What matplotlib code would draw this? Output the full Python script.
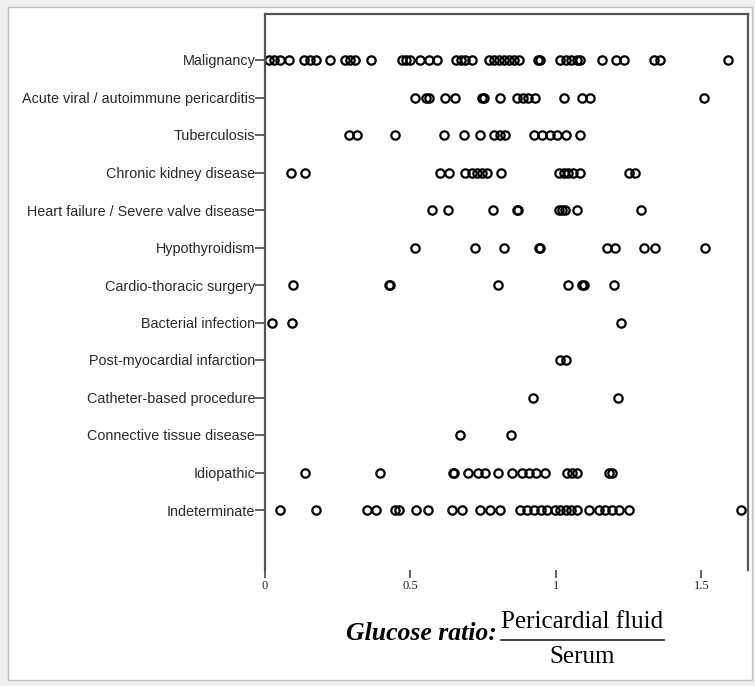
import matplotlib
matplotlib.use("Agg")
import matplotlib.pyplot as plt
from matplotlib.patches import Rectangle
from matplotlib.lines import Line2D

# Diagnosis groups, top to bottom
categories = [
    "Malignancy",
    "Acute viral / autoimmune pericarditis",
    "Tuberculosis",
    "Chronic kidney disease",
    "Heart failure / Severe valve disease",
    "Hypothyroidism",
    "Cardio-thoracic surgery",
    "Bacterial infection",
    "Post-myocardial infarction",
    "Catheter-based procedure",
    "Connective tissue disease",
    "Idiopathic",
    "Indeterminate",
]

# Glucose ratio (pericardial fluid / serum) per patient
malignancy = [0.013, 0.030, 0.050, 0.082, 0.133, 0.154, 0.174, 0.222, 0.274, 0.291,
              0.311, 0.363, 0.471, 0.485, 0.500, 0.534, 0.563, 0.592, 0.655, 0.672,
              0.689, 0.712, 0.769, 0.786, 0.803, 0.821, 0.838, 0.855, 0.872, 0.938,
              0.944, 1.015, 1.033, 1.050, 1.073, 1.084, 1.159, 1.205, 1.233, 1.336,
              1.359, 1.590]
acute_pericarditis = [0.515, 0.555, 0.563, 0.618, 0.654, 0.746, 0.754, 0.809, 0.865,
                      0.888, 0.905, 0.929, 1.027, 1.090, 1.118, 1.510]
tuberculosis = [0.288, 0.317, 0.448, 0.614, 0.683, 0.740, 0.786, 0.809, 0.826, 0.924,
                0.953, 0.981, 1.004, 1.033, 1.084]
kidney_disease = [0.088, 0.139, 0.603, 0.632, 0.689, 0.712, 0.729, 0.746, 0.763, 0.812,
                  1.009, 1.026, 1.043, 1.060, 1.084, 1.250, 1.273]
heart_failure = [0.575, 0.629, 0.784, 0.867, 0.870, 1.009, 1.020, 1.030, 1.073, 1.293]
hypothyroidism = [0.514, 0.723, 0.820, 0.941, 0.946, 1.176, 1.204, 1.302, 1.340, 1.512]
cardiac_surgery = [0.096, 0.425, 0.428, 0.801, 1.042, 1.091, 1.095, 1.199]
bacterial = [0.025, 0.093, 1.222]
post_mi = [1.015, 1.035]
catheter = [0.920, 1.214]
connective_tissue = [0.670, 0.844]
idiopathic = [0.137, 0.394, 0.645, 0.650, 0.698, 0.733, 0.756, 0.801, 0.849, 0.884,
              0.907, 0.930, 0.962, 1.038, 1.055, 1.073, 1.181, 1.193]
indeterminate = [0.050, 0.174, 0.349, 0.382, 0.448, 0.460, 0.520, 0.559, 0.643, 0.678,
                 0.740, 0.775, 0.809, 0.878, 0.901, 0.924, 0.947, 0.970, 0.998, 1.015,
                 1.033, 1.050, 1.073, 1.113, 1.147, 1.170, 1.193, 1.218, 1.250, 1.637]

groups = [malignancy, acute_pericarditis, tuberculosis, kidney_disease, heart_failure,
          hypothyroidism, cardiac_surgery, bacterial, post_mi, catheter,
          connective_tissue, idiopathic, indeterminate]

xticks = [0, 0.5, 1, 1.5]
xtick_labels = ["0", "0.5", "1", "1.5"]

fig = plt.figure(figsize=(7.55, 6.86), dpi=100, facecolor="#efefef")

# white card behind the chart
card = Rectangle((8 / 755, 6 / 686), 744 / 755, 673 / 686,
                 transform=fig.transFigure, facecolor="white",
                 edgecolor="#bdbdbd", linewidth=1.0, zorder=-10)
fig.add_artist(card)

ax = fig.add_axes([265 / 755, 1 - 570 / 686, 483 / 755, 556.5 / 686])
ax.set_facecolor("white")

n = len(categories)
for i, vals in enumerate(groups):
    y = n - 1 - i
    ax.plot(vals, [y] * len(vals), linestyle="none", marker="o", ms=6.0,
            mfc="none", mec="black", mew=1.6, clip_on=False)

ax.set_xlim(0, 1.66)
ax.set_ylim(-1.6, n - 1 + 1.24)

ax.set_yticks(range(n))
ax.set_yticklabels(categories[::-1], fontsize=10.4, family="Liberation Sans",
                   color="#2a2a2a")
ax.set_xticks(xticks)
ax.set_xticklabels(xtick_labels, fontsize=9, family="Liberation Serif",
                   color="#222222")
ax.tick_params(axis="y", direction="out", length=7, width=1.3, color="#555555", pad=0)
ax.tick_params(axis="x", direction="out", length=6, width=1.3, color="#555555", pad=1)

for side in ["left", "top", "right"]:
    ax.spines[side].set_color("#555555")
    ax.spines[side].set_linewidth(1.6)
ax.spines["bottom"].set_visible(False)

# axis title written as a fraction
fig.text(497 / 755, 1 - 634 / 686, "Glucose ratio:", ha="right", va="center",
         family="Liberation Serif", fontsize=18.5, fontweight="bold", style="italic")
fig.text(582 / 755, 1 - 622 / 686, "Pericardial fluid", ha="center", va="center",
         family="Liberation Serif", fontsize=18)
fig.text(582 / 755, 1 - 657 / 686, "Serum", ha="center", va="center",
         family="Liberation Serif", fontsize=18)
fig.add_artist(Line2D([501 / 755, 664 / 755], [1 - 640 / 686, 1 - 640 / 686],
                      transform=fig.transFigure, color="#333333", linewidth=1.3))

fig.savefig("out.png", dpi=100, facecolor=fig.get_facecolor())
